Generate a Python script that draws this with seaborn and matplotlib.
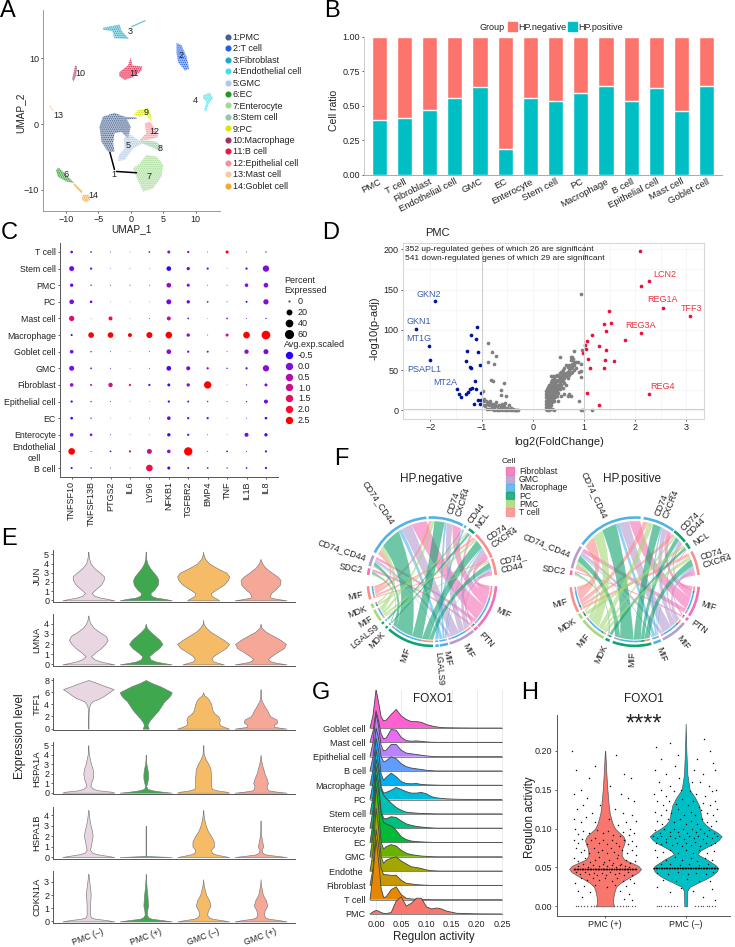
import matplotlib
matplotlib.use("Agg")
import matplotlib.pyplot as plt
import numpy as np
import pandas as pd
import seaborn as sns
from matplotlib.colors import LinearSegmentedColormap, to_rgba
from matplotlib.lines import Line2D
from matplotlib.patches import PathPatch, Patch, Wedge
from matplotlib.path import Path

W, H = 735, 947

# ---- A: UMAP cluster outlines
C1 = [(-4.8, -.4), (-4.3, 1.1), (-2.5, 1.7), (-.9, 1.1), (.9, 1.0), (.9, .8), (-.6, .7), (0, -.4), (-.4, -2.2), (-1.4, -1.2), (-2.5, -1.4), (-2.7, -2.9), (-2.5, -4.2), (-3.5, -4.2), (-4.5, -2.7)]
C2 = [(7.06, 12.3), (7.8, 12), (8.6, 10.2), (9, 8.4), (8.35, 8.1), (7.3, 9.4), (7.06, 10.7)]
C3 = [(-4.28, 14.6), (-1.7, 15.1), (-1.44, 14.2), (-.26, 12.9), (-2.47, 13), (-2.84, 14.1), (-4.28, 14.3)]
C3_TAIL = [(.1, 14.85), (2.27, 15.8), (2.27, 15.6), (.1, 14.65)]
C4 = [(11.2, 4.4), (12.2, 4.75), (12.7, 3.9), (12, 3.1), (11.6, 1.9), (11.3, 2.1), (11.7, 3.4), (11.1, 3.9)]
C5 = [(-.67, -1.4), (.1, -1.7), (1.9, -2.9), (.36, -3.7), (-.93, -5.45), (-1.96, -5.6), (-1.8, -4.7), (-.93, -3.7), (-1.08, -2.4)]
C6 = [(-11.5, -7), (-11.1, -6.6), (-9.95, -7.7), (-8.66, -9), (-9.95, -8.7), (-11.2, -8)]
C7 = [(2.4, -4.7), (4, -4.95), (5, -6.2), (4.74, -8), (3.45, -9.75), (1.9, -10.25), (.88, -8), (.36, -6.7), (1.4, -6)]
C8 = [(1.4, -2.4), (4, -2.7), (4.74, -3.4), (4.5, -4.2), (3.7, -3.7), (1.9, -3)]
C9 = [(.46, 1.4), (1.1, 2.1), (2.7, 2.4), (3.2, 1.1), (3.2, .35), (2.4, 1.4), (1.4, 1.1)]
C10 = [(-8.56, 8.9), (-8.25, 8.7), (-8.4, 7.4), (-8.8, 6.4), (-9, 6.9), (-8.76, 7.9)]
C11 = [(-1.7, 7.9), (-.4, 8.9), (0, 10.1), (.26, 8.9), (1.8, 8.7), (1.65, 8.1), (.36, 7.1), (-.93, 6.7), (-1.8, 7.3)]
C12 = [(2.16, .1), (3, .35), (4.07, -1.2), (4.2, -2), (2.7, -2.4), (1.4, -2.4), (2.4, -1.4)]
C13 = [(-12.4, 2.9), (-11.8, 2), (-11.9, 1.9), (-12.5, 2.6)]
C14 = [(-7.4, -10.75), (-6.4, -10.75), (-6.2, -11.5), (-6.9, -11.9), (-7.5, -11.5)]
C14_TAIL = [(-8.66, -9), (-7.4, -10.25), (-7.6, -10.5), (-8.8, -9.25)]
CLUSTER_SHAPES = [C1, C2, C3, C4, C5, C6, C7, C8, C9, C10, C11, C12, C13, C14]
CLUSTER_NAMES = ["1:PMC", "2:T cell", "3:Fibroblast", "4:Endothelial cell", "5:GMC", "6:EC", "7:Enterocyte", "8:Stem cell", "9:PC", "10:Macrophage", "11:B cell", "12:Epithelial cell", "13:Mast cell", "14:Goblet cell"]
CLUSTER_COLORS = ["#44608f", "#2060e8", "#1fa8c8", "#40e0f0", "#b0c8e8", "#229922", "#a0dc90", "#90c8a8", "#d8e800", "#a03060", "#e81840", "#f8909a", "#f8c8a8", "#f8a830"]
CLUSTER_LABEL_X = [-2.6, 7.8, -.15, 10, -.4, -9.9, 2.8, 4.5, 2.3, -7.8, .45, 3.6, -11.2, -5.7]
CLUSTER_LABEL_Y = [-7.7, 10.4, 14, 3.5, -3.2, -7.7, -7.9, -3.7, 1.7, 7.7, 7.6, -1.2, 1.3, -10.8]
POINTER_X = [-3.2, -2.5, -2.2, .9]
POINTER_Y = [-4.3, -6.9, -7.2, -7.4]

# ---- B: HP fraction per cell type
BAR_CELLS = ["PMC", "T cell", "Fibroblast", "Endothelial cell", "GMC", "EC", "Enterocyte", "Stem cell", "PC", "Macrophage", "B cell", "Epithelial cell", "Mast cell", "Goblet cell"]
HP_POSITIVE = [.40, .41, .47, .555, .635, .185, .56, .535, .59, .645, .535, .63, .465, .645]
HP_TOTAL = [1.0] * 14

# ---- C: dot plot
DOT_GENES = ["TNFSF10", "TNFSF13B", "PTGS2", "IL6", "LY96", "NFKB1", "TGFBR2", "BMP4", "TNF", "IL1B", "IL8"]
DOT_ROWS = ["T cell", "Stem cell", "PMC", "PC", "Mast cell", "Macrophage", "Goblet cell", "GMC", "Fibroblast", "Epithelial cell", "EC", "Enterocyte", "Endothelial\ncell", "B cell"]
DOT_PCT = [
    [7, 3, 1, .5, 3, 9, 5, 1, 9, 1, 2],
    [25, 5, .5, .5, .5, 22, 11, 5, .5, 5, 40],
    [11, 2, 1, 1, 1, 22, 9, 1, 1, 13, 22],
    [22, 7, .5, .5, .5, 25, 11, 3, 1, 4, 28],
    [28, .5, 16, .5, 1, 16, 3, .5, 3, 1, 2],
    [4, 32, 32, 16, 36, 44, 11, 1, 9, 44, 75],
    [13, 2, 1, .5, 1, 22, 5, 4, 1, 19, 25],
    [25, 3, 1, .5, 1, 22, 16, 5, 2, 5, 40],
    [13, 4, 19, 5, 5, 9, 11, 54, .5, 2, 9],
    [5, 2, 1, .5, .5, 5, 4, 2, 1, 2, 16],
    [7, 2, .5, .5, 1, 13, 5, 5, .5, 1, 7],
    [13, 7, 1, .5, .5, 11, 5, 1, .5, 16, 11],
    [44, 1, 3, 5, 25, 13, 70, 1, 3, 1, 5],
    [4, 2, 1, .5, 44, 9, 4, 3, 2, 3, 5],
]
DOT_AVG = [
    [-.2, 0, 0, 0, 0, 0, -.1, 0, 2.5, 0, 0],
    [-.1, -.2, 0, 0, 0, -.4, -.1, -.1, 0, -.3, 0],
    [-.2, -.2, 0, 0, 0, .2, -.1, 0, -.1, 0, 0],
    [0, -.1, 0, 0, 0, -.1, -.2, -.1, -.1, -.3, 0],
    [1.4, 0, 1.7, 0, 0, .9, -.2, 0, 0, 0, -.2],
    [-.5, 2.5, 2.5, 2.5, 2.5, 2.5, 0, 0, 1, 2.5, 2.5],
    [-.1, -.2, 0, 0, 0, .1, -.2, -.1, 0, .1, -.1],
    [0, -.2, -.2, 0, -.1, -.3, -.1, -.1, -.2, -.3, .1],
    [.2, .6, 1.1, 1.5, -.2, -.3, 0, 2.5, 0, 0, -.1],
    [-.4, -.1, 0, 0, 0, -.4, -.2, -.1, -.1, -.1, -.1],
    [-.4, -.1, 0, 0, 0, -.2, -.3, -.2, 0, 0, -.3],
    [0, 0, 0, 0, 0, -.4, -.2, 0, 0, -.1, -.3],
    [2.5, -.2, -.3, 1.1, 1, .1, 2.5, -.1, -.3, -.3, -.1],
    [-.5, -.3, 0, -.2, 1.8, -.4, -.3, -.1, -.1, -.3, -.3],
]
PCT_LEVELS = [0, 20, 40, 60]
AVG_LEVELS = [-.5, 0, .5, 1, 1.5, 2, 2.5]
AVG_COLORS = ["#2a00ff", "#8010d8", "#b010a8", "#c81088", "#e01060", "#f01030", "#ff0000"]

# ---- D: volcano
RED_X = [2.10, 2.27, 2.12, 2.54, 3.08, 2.12, 1.80, 1.48, 1.40, 1.53, 1.43, 1.16, 1.05, 1.02, 1.04, .99, 1.30, 1.44, 1.07, 1.41, 1.58, 1.12, 1.40, 1.05, 2.27, 1.30]
RED_Y = [198, 160.7, 154.5, 126.7, 116.8, 96.5, 87.4, 123.8, 107, 109, 98, 93, 86, 81.6, 76.6, 71.6, 79.5, 75, 64, 63, 61, 52, 52, 21, 20, 6]
BLUE_X = [-1.91, -2.28, -2.02, -2.01, -1.09, -1.20, -1.10, -1.29, -1.07, -1.31, -1.22, -1.20, -1.03, -1.13, -1.47, -1.45, -1.40, -1.30, -1.27, -1.22, -1.18, -1.11, -1.02, -1.06, -1.14, -1.03, -1.02]
BLUE_Y = [136, 101.5, 80, 62, 104, 94, 89, 74, 73, 61, 54, 52, 56, 36, 26, 20, 16, 20, 23, 26.5, 28, 26, 21, 13, 7.5, 7.5, 13]
GREY_LEFT_X = [-.87, -.80, -.72, -.87, -.76, -.81, -.77, -.57, -.97, -.62, -.62, -.52, -.98, -.95, -.92, -.9, -.96, -.93, -.88, -.86, -.84, -.82, -.8, -.78, -.76, -.74, -.72, -.7, -.68, -.66, -.64, -.62, -.6, -.58, -.56, -.54, -.52, -.5, -.48, -.46, -.44, -.42, -.4, -.38, -.36, -.34, -.32, -.3, -.28, -.9, -.85, -.8, -.75, -.7, -.65, -.6, -.55, -.5, -.45, -.42]
GREY_LEFT_Y = [83, 72, 68, 60, 57.5, 38, 36, 34, 24.5, 25, 19, 18, 12, 14, 11, 8, 6, 5, 10, 6, 12, 8, 4, 8, 3, 6, 10, 5, 2, 6, 1, 4, 8, 2, 5, 9, 1, 3, 1, 6, 2, 1, 0, 1, 0, .5, 0, 0, 0, 2, 1, 1, 0, 0, 0, 0, 0, 0, 0, 3]
GREY_RIGHT_COLS = [.25, .27, .29, .31, .33, .35, .37, .39, .41, .44, .47, .5, .53, .56, .59, .62, .65, .68, .71, .74, .77, .8, .84, .88, .91, .94, .96, .99, 1.15, .75, .79]
GREY_RIGHT_ROWS = [
    [1, 4, 8, 12, 16, 20, 24], [0, 3, 6, 10, 14, 18, 22, 26], [1, 5, 9, 13, 17, 21, 25, 29], [0, 4, 8, 12, 16, 20, 24, 28, 32],
    [3, 7, 11, 15, 19, 23, 27, 31], [2, 6, 12, 18, 22, 26, 30, 35, 42], [1, 10, 16, 20, 24, 28, 32, 38], [14, 18, 22, 26, 30, 34, 43],
    [0, 12, 20, 24, 28, 32, 36, 40], [16, 22, 26, 30, 34, 38, 42], [18, 24, 28, 32, 36, 44], [12, 22, 28, 32, 38, 42],
    [26, 30, 34, 40, 46, 66], [18, 32, 36, 42, 48], [28, 36, 40, 46, 50], [20, 34, 40, 44, 52], [32, 42, 46, 56], [18, 40, 48, 54],
    [20, 44, 50, 56], [18, 46, 52, 62], [48, 54, 58, 66], [50, 56, 60, 74], [52, 60], [60], [11, 48], [144.5, 58, 49, 41, .5], [75], [0], [0], [66], [64],
]
DOWN_LABELS = ["GKN2", "GKN1", "MT1G", "PSAPL1", "MT2A"]
DOWN_LABEL_X = [-2.27, -2.47, -2.48, -2.46, -1.95]
DOWN_LABEL_Y = [144, 110, 88.6, 51, 34.5]
UP_LABELS = ["LCN2", "REG1A", "REG3A", "TFF3", "REG4"]
UP_LABEL_X = [2.57, 2.53, 2.1, 3.1, 2.53]
UP_LABEL_Y = [169, 138, 105.6, 126.7, 30]

# ---- E: stacked violins, half widths per level (1/172 of a slot)
E_GROUPS = ["PMC (\u2013)", "PMC (+)", "GMC (\u2013)", "GMC (+)"]
E_COLORS = ["#e8d6e2", "#3fa84f", "#f5bb66", "#f5a898"]
E_GENES = ["JUN", "LMNA", "TFF1", "HSPA1A", "HSPA1B", "CDKN1A"]
JUN_LEVELS = [0, .15, .3, .5, .8, 1.2, 1.7, 2.2, 2.6, 3, 3.5, 4, 4.5, 5, 5.3]
JUN_WIDTHS = [
    [78, 58, 35, 18, 10, 22, 38, 46, 47, 35, 18, 7, 3, .5, 0],
    [78, 58, 30, 16, 14, 26, 36, 38, 33, 24, 13, 5, 1.5, .7, .4],
    [48, 42, 34, 25, 24, 40, 62, 74, 78, 70, 42, 18, 6, 1, 0],
    [78, 50, 30, 28, 32, 45, 58, 60, 50, 34, 16, 5, 0, 0, 0],
]
LMNA_LEVELS = [0, .15, .3, .5, .8, 1.2, 1.6, 2, 2.4, 2.8, 3.2, 3.6, 4, 4.4, 4.8]
LMNA_WIDTHS = [
    [78, 55, 35, 18, 8, 22, 38, 50, 58, 52, 32, 16, 7, 2, .5],
    [78, 50, 28, 14, 10, 24, 40, 50, 42, 28, 14, 3, 0, 0, 0],
    [62, 45, 30, 25, 30, 48, 68, 78, 62, 42, 22, 9, 1, 0, 0],
    [78, 48, 30, 22, 32, 50, 70, 76, 60, 38, 16, 3, 0, 0, 0],
]
TFF1_LEVELS = [0, .3, .6, 1, 1.5, 2, 2.5, 3, 3.5, 4, 4.5, 5, 5.5, 6, 6.5, 7, 7.5, 8]
TFF1_WIDTHS = [
    [.5, .5, .5, .5, .5, .7, 1, 1.5, 2, 5, 12, 35, 50, 62, 76, 50, 26, 0],
    [9, 7, 5, 8, 14, 22, 30, 38, 44, 50, 56, 66, 74, 78, 60, 42, 18, 0],
    [78, 62, 50, 48, 50, 46, 34, 28, 26, 24, 20, 14, 3, 0, 0, 0, 0, 0],
    [78, 40, 40, 50, 48, 30, 24, 20, 14, 9, 4, 1.5, 1, .5, 0, 0, 0, 0],
]
HSPA1A_LEVELS = [0, .1, .25, .4, .7, 1, 1.5, 2, 2.5, 3, 3.5, 4, 4.5, 5]
HSPA1A_WIDTHS = [
    [78, 70, 30, 15, 6, 8, 13, 15, 13, 8, 5, 2, .5, 0],
    [78, 50, 20, 5, 1.5, 4, 7, 7, 5, 2, .5, 0, 0, 0],
    [78, 70, 40, 26, 24, 24, 24, 23, 22, 16, 8, 2, 1, .7],
    [78, 50, 24, 20, 18, 22, 18, 12, 8, 4, 1.5, 0, 0, 0],
]
HSPA1B_LEVELS = [0, .1, .25, .4, .7, 1, 1.5, 2, 2.5, 3, 3.5, 4, 4.5]
HSPA1B_WIDTHS = [
    [78, 60, 30, 12, 5, 7, 10, 13, 11, 7, 4, 2, .5],
    [78, .5, .5, .5, .5, .5, .5, .5, .5, 0, 0, 0, 0],
    [78, 60, 38, 26, 24, 32, 32, 24, 14, 8, 4, 1.5, .5],
    [78, 50, 15, 6, 3, 8, 5, 2, 1, .5, 0, 0, 0],
]
CDKN1A_LEVELS = [0, .1, .2, .3, .5, .8, 1.2, 1.6, 2, 2.4, 2.8, 3.2, 3.6]
CDKN1A_WIDTHS = [
    [78, 55, 22, 8, 5, 5, 5, 6, 7, 6, 4, 2, .5],
    [78, 50, 18, 8, 3, 4, 7, 6, 5, 3, 2, .5, 0],
    [78, 55, 28, 18, 12, 14, 22, 18, 9, 5, 1.5, 0, 0],
    [78, 55, 25, 14, 10, 12, 20, 16, 7, 4, 1, 0, 0],
]
E_LEVELS = [JUN_LEVELS, LMNA_LEVELS, TFF1_LEVELS, HSPA1A_LEVELS, HSPA1B_LEVELS, CDKN1A_LEVELS]
E_WIDTHS = [JUN_WIDTHS, LMNA_WIDTHS, TFF1_WIDTHS, HSPA1A_WIDTHS, HSPA1B_WIDTHS, CDKN1A_WIDTHS]
E_TICKS = [[0, 1, 2, 3, 4, 5], [0, 1, 2, 3, 4], [0, 2, 4, 6, 8], [0, 1, 2, 3, 4, 5], [0, 1, 2, 3, 4], [0, 1, 2, 3]]
E_YLIMS = [(-.18, 5.47), (-.16, 4.95), (-.22, 8.33), (-.17, 5.3), (-.16, 4.82), (-.12, 3.82)]

# ---- F: chord diagrams (degrees, ccw from east)
CELL_NAMES = ["Fibroblast", "GMC", "Macrophage", "PC", "PMC", "T cell"]
CELL_COLORS = ["#f46fb4", "#b79ccf", "#4fb3e8", "#0fa36f", "#a8d878", "#fb8f8c"]
NEG_SENDERS = [(-4, -44, 0), (-45, -49, 0), (-50, -74, 1), (-75.5, -83, 2), (-84, -87, 2), (-89, -132, 3), (-134, -136, 3), (-139, -141, 3), (-143, -154, 4), (-156, -160, 4), (-164, -176, 5)]
NEG_RECEIVERS = [(6, 21, 5), (22, 47, 5), (49, 55, 3), (58, 60, 2), (61.4, 93, 2), (95, 153, 2), (156, 166, 1), (168, 174, 0)]
NEG_WEIGHTS = [
    [3, 6, 0, 0, 9, 13, 3, 0],
    [0, 0, 2, 0, 0, 0, 0, 2],
    [2, 4, 0, 0, 6, 9, 3, 0],
    [.8, 1, 0, 0, 2, 3, .8, 0],
    [0, 0, 0, 3, 0, 0, 0, 0],
    [4, 7, 0, 0, 10, 18, 4, 0],
    [0, 0, 2, 0, 0, 0, 0, 1.5],
    [0, 0, 0, 1, 0, 0, 0, 0],
    [1, 2, 0, 0, 2.5, 4, 1, 0],
    [0, 0, 1.5, 0, 0, 0, 0, 1.5],
    [1, 2, 0, 0, 3, 4, 1, 0],
]
NEG_LABELS = ["CD74_CD44", "CD74_\nCXCR4", "CD44\nNCL", "CD74_\nCXCR4", "CD74_\nCD44", "MIF", "PTN", "MIF", "MIF", "LGALS9", "MIF", "MDK", "LGALS9", "MIF", "MDK", "MIF", "SDC2", "CD74_CD44"]
NEG_LABEL_ANGLES = [124, 72, 54, 34, 13, -24, -47, -62, -79, -85.5, -110, -133, -141, -149, -158, -169, 171, 161]
POS_SENDERS = [(-4.5, -32, 0), (-34, -37, 0), (-40, -64, 1), (-66, -73, 2), (-75, -110, 3), (-113, -117, 3), (-119, -143, 4), (-145, -150, 4), (-152, -175, 5)]
POS_RECEIVERS = [(6, 28, 5), (31, 37, 3), (38.5, 52, 3), (53, 82, 2), (84.7, 144.6, 2), (147, 168, 1), (170, 174, 0)]
POS_WEIGHTS = [
    [4, 0, 2, 5, 11, 4, 0],
    [0, 1, 0, 0, 0, 0, 1],
    [4, 0, 2, 5, 10, 3, 0],
    [1, 0, .5, 1.5, 3, 1, 0],
    [6, 0, 4, 8, 15, 6, 0],
    [0, 3, 0, 0, 0, 0, 1],
    [3, 0, 2, 5, 11, 4, 0],
    [0, 3, 0, 0, 0, 0, 1.5],
    [3, 0, 3, 5, 12, 4, 0],
]
POS_LABELS = ["CD74_CD44", "CD74_\nCXCR4", "CD74_\nCD44", "NCL", "CD74_\nCXCR4", "MIF", "PTN", "MIF", "MIF", "MIF", "MDK", "MIF", "MDK", "MIF", "SDC2", "CD74_CD44"]
POS_LABEL_ANGLES = [115, 68, 45, 33, 17, -18, -35, -52, -70, -92, -115, -131, -147, -164, 172, 158]

# ---- G: ridges, heights in rows of the y axis
RIDGE_NAMES = ["PMC", "T cell", "Fibroblast", "Endothe ", "GMC", "EC", "Enterocyte", "Stem cell", "PC", "Macrophage", "B cell", "Epithelial cell", "Mast cell", "Goblet cell"]
RIDGE_COLORS = ["#F8766D", "#E58700", "#C99800", "#A3A500", "#6BB100", "#00BA38", "#00BF7D", "#00C0AF", "#00BCD8", "#00B0F6", "#619CFF", "#B983FF", "#E76BF3", "#FD61D1"]
RIDGE_X = [-.012, -.006, 0, .005, .01, .015, .02, .03, .04, .05, .06, .07, .08, .09, .1, .11, .12, .13, .14, .16, .2, .25]
PMC_R = [0, .15, .25, .2, .1, .05, .03, .1, .9, 1.2, .55, .75, 1.1, 1.1, .5, .35, .42, .35, .2, .05, .01, 0]
TCELL_R = [0, 1.8, 4.2, 2.7, .8, .15, .2, .7, .9, .35, .1, .05, .03, .02, .01, 0, 0, 0, 0, 0, 0, 0]
FIBRO_R = [0, 1.2, 3.9, 2.8, 1.2, .75, .75, .7, .7, .35, .15, .1, .05, .03, .01, 0, 0, 0, 0, 0, 0, 0]
ENDO_R = [0, 1.3, 4.4, 3, 1, .55, .75, .9, 1, .7, .5, .3, .25, .18, .08, .03, .01, 0, 0, 0, 0, 0]
GMC_R = [0, 1.5, 4.9, 3.4, 1, .55, .7, .85, .75, .45, .25, .15, .1, .05, .03, .01, 0, 0, 0, 0, 0, 0]
EC_R = [0, 1.4, 4.7, 3.6, 2, 1.4, 1.3, 1.15, .85, .4, .2, .1, .06, .04, .02, .01, 0, 0, 0, 0, 0, 0]
ENTERO_R = [0, 1.3, 4.3, 3.2, 1.2, .7, .65, .8, .75, .5, .3, .2, .12, .08, .04, .02, 0, 0, 0, 0, 0, 0]
STEM_R = [0, 1.2, 3.8, 3, 1.7, 1.3, 1.1, .75, .45, .25, .12, .08, .05, .03, .02, .01, 0, 0, 0, 0, 0, 0]
PC_R = [0, 1.2, 3.5, 2.4, .9, .45, .5, .65, .85, .7, .55, .45, .45, .5, .4, .2, .12, .08, .05, .02, 0, 0]
MACRO_R = [0, 1.1, 3.3, 2.4, .8, .35, .55, .85, .6, .25, .12, .1, .12, .06, .03, .02, .01, 0, 0, 0, 0, 0]
BCELL_R = [0, 1, 3, 2.3, 1, .65, .7, 1, .85, .5, .3, .2, .15, .1, .05, .02, 0, 0, 0, 0, 0, 0]
EPI_R = [0, 1, 3, 2.1, .8, .4, .45, .85, .85, .45, .25, .2, .15, .1, .05, .02, 0, 0, 0, 0, 0, 0]
MAST_R = [0, .8, 2.2, 1.5, .6, .25, .3, .9, .85, .35, .12, .08, .1, .07, .03, .01, 0, 0, 0, 0, 0, 0]
GOBLET_R = [0, .9, 2.7, 1.8, .8, .5, .55, .95, 1.3, .85, .6, .45, .45, .4, .25, .15, .08, .03, .02, .01, 0, 0]
RIDGE_VALUES = [PMC_R, TCELL_R, FIBRO_R, ENDO_R, GMC_R, EC_R, ENTERO_R, STEM_R, PC_R, MACRO_R, BCELL_R, EPI_R, MAST_R, GOBLET_R]

# ---- H: violins and jitter
H_GROUPS = ["PMC (+)", "PMC (\u2013)"]
H_PLUS_LEVELS = [0, .005, .012, .02, .025, .03, .035, .04, .044, .048, .052, .056, .06, .065, .07, .075, .08, .085, .09, .095, .1, .105, .11, .12, .13, .15, .17, .2]
H_PLUS_WIDTHS = [27, 24, 25, 29, 33, 45, 64, 85, 100, 108, 100, 80, 58, 50, 50, 52, 57, 60, 55, 42, 30, 24, 20, 14, 11, 7, 4, .5]
H_MINUS_LEVELS = [0, .02, .025, .03, .035, .04, .045, .049, .053, .057, .06, .067, .072, .076, .08, .085, .09, .095, .1, .105, .11, .12, .13, .14, .15, .17, .2, .235]
H_MINUS_WIDTHS = [4, 5, 12, 35, 60, 80, 93, 98, 90, 75, 65, 35, 45, 62, 80, 98, 108, 95, 75, 60, 50, 45, 40, 28, 12, 5, 2, 0]
H_PLUS_JITTER = [(-.41, .2), (-.36, .175), (-.2, .165), (-.12, .18), (.14, .195), (.24, .17), (.32, .165), (-.3, .15), (-.38, .145), (-.22, .14), (-.27, .13), (.2, .145), (.28, .14), (.36, .135), (.06, .155), (-.06, .13), (-.35, .125), (-.16, .12), (.12, .125), (.22, .12), (.33, .118), (.38, .11), (-.39, .112), (-.3, .108), (-.24, .115), (-.12, .108), (.05, .112), (.16, .105), (.26, .108), (.31, .1), (-.37, .1), (-.33, .093), (-.27, .097), (-.2, .095), (-.1, .098), (-.03, .094), (.04, .097), (.1, .092), (.18, .09), (.22, .096), (.3, .092), (.36, .094), (-.38, .085), (-.34, .082), (-.29, .087), (-.23, .08), (-.17, .085), (-.12, .088), (-.07, .082), (-.02, .086), (.03, .08), (.08, .085), (.13, .082), (.17, .078), (.24, .086), (.29, .08), (.34, .084), (.39, .078), (-.36, .075), (-.3, .07), (-.26, .073), (-.2, .068), (-.14, .075), (-.09, .07), (-.04, .073), (.02, .068), (.07, .075), (.11, .07), (.16, .066), (.21, .072), (.27, .068), (.33, .073), (.38, .066), (-.39, .062), (-.33, .058), (-.25, .062), (-.19, .057), (-.13, .06), (-.07, .063), (-.01, .057), (.05, .06), (.1, .056), (.15, .062), (.2, .055), (.26, .06), (.31, .056), (.37, .058), (-.34, .052), (-.27, .054), (-.21, .051), (-.15, .053), (-.08, .052), (-.03, .054), (.03, .052), (.09, .053), (.14, .051), (.19, .053), (.25, .052), (.3, .051), (-.36, .044), (-.31, .042), (-.25, .044), (-.2, .041), (-.14, .043), (-.1, .04), (-.04, .043), (.01, .04), (.06, .044), (.12, .041), (.17, .043), (.23, .04), (.28, .044), (.34, .04), (-.3, .036), (-.22, .034), (-.15, .037), (-.07, .034), (0, .036), (.08, .033), (.15, .036), (.22, .033), (.31, .035), (-.37, .03), (-.26, .026), (-.12, .028), (.03, .025), (.12, .027), (.26, .026), (.36, .03), (-.33, .02), (-.19, .018), (.18, .02), (.3, .016), (-.28, .012), (.24, .01), (.33, .008)]
H_MINUS_JITTER = [(-.37, .205), (-.19, .21), (.23, .215), (.3, .2), (-.3, .19), (-.1, .195), (.14, .19), (.34, .185), (-.38, .175), (-.25, .17), (-.13, .18), (.1, .175), (.21, .17), (.37, .175), (-.33, .16), (-.2, .155), (-.08, .165), (.08, .16), (.18, .16), (.29, .155), (.38, .15), (-.39, .145), (-.3, .15), (-.24, .142), (-.15, .148), (-.06, .15), (.05, .148), (.13, .145), (.24, .142), (.33, .148), (-.36, .135), (-.28, .13), (-.21, .136), (-.12, .132), (-.04, .138), (.03, .13), (.09, .135), (.16, .128), (.22, .133), (.3, .13), (.37, .135), (-.38, .122), (-.31, .118), (-.25, .124), (-.18, .12), (-.1, .125), (-.02, .118), (.06, .122), (.12, .118), (.19, .124), (.27, .12), (.34, .118), (.39, .125), (-.35, .11), (-.29, .106), (-.22, .112), (-.15, .108), (-.07, .112), (0, .106), (.07, .11), (.14, .106), (.2, .112), (.26, .108), (.32, .104), (.38, .11), (-.38, .098), (-.32, .095), (-.27, .1), (-.2, .096), (-.14, .1), (-.09, .096), (-.03, .099), (.02, .095), (.08, .1), (.13, .096), (.18, .1), (.23, .095), (.29, .098), (.35, .095), (-.4, .09), (-.35, .088), (-.3, .091), (-.25, .087), (-.19, .09), (-.13, .088), (-.08, .091), (-.02, .087), (.04, .09), (.1, .088), (.15, .091), (.21, .087), (.27, .09), (.33, .088), (.39, .09), (-.37, .082), (-.31, .08), (-.24, .083), (-.17, .079), (-.11, .082), (-.05, .078), (.01, .082), (.07, .079), (.12, .083), (.18, .078), (.25, .082), (.31, .079), (.37, .082), (-.38, .072), (-.28, .07), (-.2, .073), (-.1, .069), (0, .072), (.09, .068), (.17, .072), (.26, .069), (.35, .071), (-.35, .063), (-.24, .06), (-.13, .063), (-.04, .059), (.06, .062), (.14, .058), (.24, .062), (.33, .059), (-.3, .054), (-.19, .055), (-.07, .053), (.04, .055), (.16, .053), (.28, .054), (-.36, .043), (-.22, .042), (-.09, .044), (.03, .041), (.13, .043), (.25, .041), (.34, .044), (-.28, .034), (-.12, .032), (.02, .035), (.17, .032), (.3, .033), (-.35, .025), (-.06, .024), (.09, .02), (.33, .022), (-.2, .018), (.22, .012), (.36, .008)]
H_LINE_OFFSETS = [-.39, -.37, -.35, -.33, -.31, -.29, -.27, -.25, -.23, -.21, -.19, -.17, -.15, -.13, -.11, -.09, -.07, -.05, -.03, -.01, .01, .03, .05, .07, .09, .11, .13, .15, .17, .19, .21, .23, .25, .27, .29, .31, .33, .35, .37, .39]
H_ZERO_OFFSETS = [-.36, -.33, -.3, -.26, -.22, -.18, -.14, -.11, .11, .15, .19, .22, .26, .29, .33, .37]

sns.set_theme(style="white")
plt.rcParams["font.family"] = ["Liberation Sans", "DejaVu Sans"]
plt.rcParams["hatch.linewidth"] = 0.6
TEXT = "#222222"
AXIS = "#555555"

fig = plt.figure(figsize=(7.35, 9.47), dpi=100)


def px_axes(left, top, right, bottom):
    return fig.add_axes([left / W, 1 - bottom / H, (right - left) / W, (bottom - top) / H])


def fig_text(x, y, s, **kw):
    kw.setdefault("ha", "center")
    kw.setdefault("va", "center")
    kw.setdefault("color", TEXT)
    kw.setdefault("fontsize", 6.5)
    fig.text(x / W, 1 - y / H, s, **kw)


def clean_axis(ax, size=6.5):
    sns.despine(ax=ax)
    for side in ["left", "bottom"]:
        ax.spines[side].set_color(AXIS)
        ax.spines[side].set_linewidth(.7)
    ax.tick_params(labelsize=size, colors=TEXT, length=1.5, width=.5, pad=1.5, left=True, bottom=True)
    ax.set_xlabel("")
    ax.set_ylabel("")


for letter, x, y in [("A", 8, 11), ("B", 332, 11), ("C", 9, 233), ("D", 331, 233), ("E", 9, 539), ("F", 341, 459), ("G", 321, 693), ("H", 530, 693)]:
    fig_text(x, y, letter, fontsize=17, color="black")

# ---- A
ax = px_axes(43, 10, 220, 211)
for shape, color in zip(CLUSTER_SHAPES, CLUSTER_COLORS):
    xs, ys = zip(*shape)
    ax.fill(xs, ys, facecolor=to_rgba(color, .4), edgecolor=color, hatch="........", linewidth=0)
for shape, color in [(C3_TAIL, CLUSTER_COLORS[2]), (C14_TAIL, CLUSTER_COLORS[13])]:
    xs, ys = zip(*shape)
    ax.fill(xs, ys, color=color, alpha=.7, linewidth=0)
sns.lineplot(x=POINTER_X[:2], y=POINTER_Y[:2], color="black", lw=1.1, ax=ax)
sns.lineplot(x=POINTER_X[2:], y=POINTER_Y[2:], color="black", lw=1.1, ax=ax)
for i in range(14):
    ax.text(CLUSTER_LABEL_X[i], CLUSTER_LABEL_Y[i], str(i + 1), fontsize=6.5, ha="center", va="center", color=TEXT)
ax.set_xlim(-13.5, 13.75)
ax.set_ylim(-13.2, 17.3)
clean_axis(ax)
ax.spines["left"].set_color("#999999")
ax.spines["bottom"].set_color("#999999")
ax.set_xticks([-10, -5, 0, 5, 10])
ax.set_yticks([-10, 0, 10])
fig_text(131, 229, "UMAP_1", fontsize=7.2)
fig_text(20.7, 113, "UMAP_2", fontsize=7.2, rotation=90)
handles = [Line2D([], [], marker="o", ls="", color=c, ms=3.4) for c in CLUSTER_COLORS]
fig.legend(handles, CLUSTER_NAMES, loc="upper left", bbox_to_anchor=(223.5 / W, 1 - 33 / H), frameon=False, fontsize=6.5,
           labelspacing=.27, handlelength=1, handletextpad=0, borderpad=0, borderaxespad=0, labelcolor=TEXT)

# ---- B
ax = px_axes(364, 36.7, 722, 175)
sns.barplot(x=BAR_CELLS, y=HP_TOTAL, color="#FC746C", width=.6, saturation=1, ax=ax)
sns.barplot(x=BAR_CELLS, y=HP_POSITIVE, color="#00BFC4", width=.6, saturation=1, ax=ax)
ax.set_xlim(-.6, 13.6)
ax.set_ylim(0, 1)
ax.set_yticks([0, .25, .5, .75, 1])
ax.set_yticklabels(["0.00", "0.25", "0.50", "0.75", "1.00"])
clean_axis(ax)
ax.spines["left"].set_color("#cccccc")
ax.spines["bottom"].set_color("#aaaaaa")
ax.tick_params(axis="x", length=0)
ax.set_xticks(range(14))
ax.set_xticklabels(BAR_CELLS, rotation=27, ha="right", rotation_mode="anchor", fontsize=6.8)
fig_text(334, 110, "Cell ratio", fontsize=7.5, rotation=90)
fig_text(492, 27, "Group", fontsize=6.5)
leg_handles = [Patch(color="#FC746C"), Patch(color="#00BFC4")]
fig.legend(leg_handles, ["HP.negative", "HP.positive"], loc="center left", bbox_to_anchor=(508 / W, 1 - 27 / H), ncol=2, frameon=False, fontsize=6.5,
           handlelength=.95, handleheight=1.2, handletextpad=.2, columnspacing=.2, borderpad=0, borderaxespad=0, labelcolor=TEXT)

# ---- C
ax = px_axes(60, 243, 278, 477)
row_pos = list(range(13, -1, -1))
dots = pd.DataFrame({
    "col": np.tile(np.arange(11), 14),
    "row": np.repeat(row_pos, 11),
    "pct": np.ravel(DOT_PCT),
    "avg": np.ravel(DOT_AVG),
})
dot_cmap = LinearSegmentedColormap.from_list("dot", list(zip((np.array(AVG_LEVELS) + .5) / 3, AVG_COLORS)))
PCT_TO_S = .518
sns.scatterplot(data=dots, x="col", y="row", size="pct", hue="avg", palette=dot_cmap, hue_norm=(-.5, 2.5),
                sizes=(.5 * PCT_TO_S, 81 * PCT_TO_S), size_norm=(.5, 81), linewidth=0, legend=False, ax=ax)
ax.set_xlim(-.6, 10.62)
ax.set_ylim(-.54, 13.54)
clean_axis(ax)
ax.set_xticks(range(11))
ax.set_xticklabels(DOT_GENES, rotation=90, fontsize=6.5)
ax.set_yticks(row_pos)
ax.set_yticklabels(DOT_ROWS, fontsize=6.3, ma="center")
pct_handles = [Line2D([], [], marker="o", ls="", color="black", ms=max(np.sqrt(v * PCT_TO_S), .4)) for v in PCT_LEVELS]
fig.legend(pct_handles, [str(v) for v in PCT_LEVELS], title="Percent\nExpressed", loc="upper left", bbox_to_anchor=(284 / W, 1 - 276 / H), frameon=False,
           fontsize=6.5, title_fontsize=6.5, labelspacing=.21, handlelength=1, handletextpad=.55, borderpad=0, borderaxespad=0, labelcolor=TEXT, alignment="left")
avg_handles = [Line2D([], [], marker="o", ls="", color=c, ms=4.3) for c in AVG_COLORS]
fig.legend(avg_handles, [f"{v:.1f}" for v in AVG_LEVELS], title="Avg.exp.scaled", loc="upper left", bbox_to_anchor=(284 / W, 1 - 340 / H), frameon=False,
           fontsize=6.5, title_fontsize=6.5, labelspacing=.21, handlelength=1, handletextpad=.55, borderpad=0, borderaxespad=0, labelcolor=TEXT, alignment="left")

# ---- D
ax = px_axes(402.7, 243.3, 704, 419.3)
ax.set_xticks(np.arange(-2, 3.5, .5), minor=True)
ax.set_yticks(np.arange(25, 225, 50), minor=True)
ax.grid(True, which="both", color="#f3f3f3", lw=.5)
for v in [-1, 1]:
    ax.axvline(v, color="#cfcfcf", lw=.8)
ax.axhline(1.3, color="#cfcfcf", lw=.8)
right_x = [x for x, row in zip(GREY_RIGHT_COLS, GREY_RIGHT_ROWS) for _ in row]
right_y = [y for row in GREY_RIGHT_ROWS for y in row]
sns.scatterplot(x=GREY_LEFT_X + right_x, y=GREY_LEFT_Y + right_y, color="#808080", s=7, linewidth=0, ax=ax)
sns.scatterplot(x=RED_X, y=RED_Y, color="#e8123c", s=7, linewidth=0, ax=ax)
sns.scatterplot(x=BLUE_X, y=BLUE_Y, color="#00149a", s=7, linewidth=0, ax=ax)
for i, name in enumerate(DOWN_LABELS):
    ax.text(DOWN_LABEL_X[i], DOWN_LABEL_Y[i], name, color="#3c5cab", fontsize=6.5, ha="left", va="center")
for i, name in enumerate(UP_LABELS):
    ax.text(UP_LABEL_X[i], UP_LABEL_Y[i], name, color="#f03040", fontsize=6.5, ha="center", va="center")
ax.set_xlim(-2.54, 3.345)
ax.set_ylim(-11.2, 207.5)
ax.set_xticks([-2, -1, 0, 1, 2, 3])
ax.set_yticks([0, 50, 100, 150, 200])
ax.tick_params(labelsize=6.5, colors=TEXT, length=1.5, width=.5, pad=1.5, left=True, bottom=True, which="major")
ax.tick_params(which="minor", length=0)
for spine in ax.spines.values():
    spine.set_color("#d8d8d8")
    spine.set_linewidth(.8)
ax.text(.008, .985, "352 up-regulated genes of which 26 are significant\n541 down-regulated genes of which 29 are significant", transform=ax.transAxes,
        fontsize=6, va="top", ha="left", color=TEXT, linespacing=1.5)
fig_text(437, 233, "PMC", fontsize=8)
fig_text(374, 328, "-log10(p-adj)", fontsize=8, rotation=90)
fig_text(559, 442, "log2(FoldChange)", fontsize=8)

# ---- E
E_BOTTOMS = [602, 666, 730, 794.3, 858.7, 923]
for i, gene in enumerate(E_GENES):
    ax = px_axes(53.3, E_BOTTOMS[i] - 52, 295, E_BOTTOMS[i])
    levels = E_LEVELS[i]
    for j, color in enumerate(E_COLORS):
        half = np.array(E_WIDTHS[i][j]) / 172
        keep = np.flatnonzero(half > 0)
        top = min(keep[-1] + 2, len(levels))
        ax.fill_betweenx(levels[:top], j - half[:top], j + half[:top], facecolor=color, edgecolor="#7a7a7a", lw=.45)
    ax.set_xlim(-.61, 3.6)
    ax.set_ylim(*E_YLIMS[i])
    clean_axis(ax, 6.5)
    ax.set_yticks(E_TICKS[i])
    ax.set_xticks([])
    fig_text(37, E_BOTTOMS[i] - 26, gene, fontsize=6.8, rotation=90)
ax.set_xticks(range(4))
ax.set_xticklabels(E_GROUPS, rotation=20, ha="center", fontsize=6.3)
ax.tick_params(axis="x", length=0, pad=3)
fig_text(20, 736, "Expression level", fontsize=8.5, rotation=90)


# ---- F
def arc(radius, a1, a2):
    t = np.radians(np.linspace(a1, a2, 12))
    return np.column_stack([radius * np.cos(t), radius * np.sin(t)])


def chord(ax, s1, s2, r1, r2, color):
    head = arc(.885, s1, s2)
    tail = arc(.925, r2, r1)
    mid1 = .25 * (head[-1] + tail[0])
    mid2 = .25 * (tail[-1] + head[0])
    verts = list(head) + [mid1] + list(tail) + [mid2, head[0]]
    codes = [Path.MOVETO] + [Path.LINETO] * 11 + [Path.CURVE3, Path.CURVE3] + [Path.LINETO] * 11 + [Path.CURVE3, Path.CURVE3]
    ax.add_patch(PathPatch(Path(verts, codes), facecolor=to_rgba(color, .6), edgecolor="none", lw=0))


def chord_panel(ax, senders, receivers, weights, labels, label_angles):
    ax.set_xlim(-1.008, 1.008)
    ax.set_ylim(-1.008, 1.008)
    ax.set_aspect("equal")
    ax.axis("off")
    weights = np.array(weights, dtype=float)
    col_sum = weights.sum(axis=0)
    row_sum = weights.sum(axis=1)
    links = []
    recv_pos = [r[0] for r in receivers]
    for i, (a1, a2, c) in enumerate(senders):
        ax.add_patch(Wedge((0, 0), 1, min(a1, a2), max(a1, a2), width=.04, color=CELL_COLORS[c], lw=0))
        pos = a1
        span = (a2 - a1) / row_sum[i]
        for j, (b1, b2, d) in enumerate(receivers):
            if weights[i, j] == 0:
                continue
            next_pos = pos + weights[i, j] * span
            recv_width = (b2 - b1) * weights[i, j] / col_sum[j]
            links.append((i, pos, next_pos, recv_pos[j], recv_pos[j] + recv_width, CELL_COLORS[c], CELL_COLORS[d]))
            recv_pos[j] += recv_width
            pos = next_pos
    for b1, b2, d in receivers:
        ax.add_patch(Wedge((0, 0), 1, b1, b2, width=.04, color=CELL_COLORS[d], lw=0))
    draw_rank = [0, 1, 2, 4, 5, 3]
    links.sort(key=lambda item: draw_rank[[s[2] for s in senders][item[0]]])
    for _, s1, s2, r1, r2, color, recv_color in links:
        chord(ax, s1, s2, r1, r2, color)
        ax.add_patch(Wedge((0, 0), .925, min(s1, s2), max(s1, s2), width=.025, color=recv_color, lw=0))
    for text, angle in zip(labels, label_angles):
        t = np.radians(angle)
        right = np.cos(t) >= 0
        ax.text(1.07 * np.cos(t), 1.07 * np.sin(t), text, fontsize=6.4, color=TEXT, rotation=angle if right else angle + 180,
                rotation_mode="anchor", ha="left" if right else "right", va="center", linespacing=1.0, ma="left" if right else "right", clip_on=False)


ax = px_axes(432 - 66, 581.7 - 66, 432 + 66, 581.7 + 66)
chord_panel(ax, NEG_SENDERS, NEG_RECEIVERS, NEG_WEIGHTS, NEG_LABELS, NEG_LABEL_ANGLES)
ax = px_axes(634.7 - 66, 581.7 - 66, 634.7 + 66, 581.7 + 66)
chord_panel(ax, POS_SENDERS, POS_RECEIVERS, POS_WEIGHTS, POS_LABELS, POS_LABEL_ANGLES)
fig_text(431.7, 479, "HP.negative", fontsize=8.5)
fig_text(632, 479, "HP.positive", fontsize=8.5)
fig_text(509, 461.7, "Cell", fontsize=6)
cell_handles = [Patch(color=c, alpha=.85) for c in CELL_COLORS]
fig.legend(cell_handles, CELL_NAMES, loc="upper left", bbox_to_anchor=(506 / W, 1 - 467 / H), frameon=False, fontsize=6.2,
           labelspacing=-.09, handlelength=.9, handleheight=.95, handletextpad=.6, borderpad=0, borderaxespad=0, labelcolor=TEXT)

# ---- G
ax = px_axes(367, 690, 503, 919)
ax.grid(True, axis="x", color="#e8e8e8", lw=.6)
for i in range(13, -1, -1):
    heights = np.array(RIDGE_VALUES[i])
    ax.fill_between(RIDGE_X, i, i + heights, facecolor=RIDGE_COLORS[i], edgecolor="none", zorder=20 - i)
    sns.lineplot(x=RIDGE_X, y=i + heights, color="#444444", lw=.6, ax=ax, zorder=20.1 - i)
    ax.plot(RIDGE_X, [i] * len(RIDGE_X), color="#555555", lw=.5, zorder=20.1 - i)
ax.set_xlim(-.018, .252)
ax.set_ylim(-.35, 15.66)
sns.despine(ax=ax, left=True, bottom=True)
ax.set_xticks([0, .05, .1, .15, .2, .25])
ax.set_xticklabels(["0.00", "0.05", "0.10", "0.15", "0.20", "0.25"])
ax.set_yticks(range(14))
ax.set_yticklabels(RIDGE_NAMES)
ax.tick_params(labelsize=6.5, colors=TEXT, length=0, pad=1)
fig_text(433, 699, "FOXO1", fontsize=8.5)
fig_text(434, 937, "Regulon activity", fontsize=8.3)

# ---- H
ax = px_axes(556.7, 715, 730, 915.7)
h_sets = [(H_PLUS_LEVELS, H_PLUS_WIDTHS, "#F8766D", H_PLUS_JITTER, .048), (H_MINUS_LEVELS, H_MINUS_WIDTHS, "#00BFC4", H_MINUS_JITTER, .049)]
for k, (levels, widths, color, jitter, line_y) in enumerate(h_sets):
    half = np.array(widths) / 242
    ax.fill_betweenx(levels, k - half, k + half, facecolor=color, edgecolor="#555555", lw=.5, zorder=2)
    jx, jy = zip(*jitter)
    sns.scatterplot(x=[k + v for v in jx], y=jy, color="#111111", s=1.1, linewidth=0, ax=ax, zorder=3)
    sns.scatterplot(x=[k + v for v in H_LINE_OFFSETS], y=[line_y] * len(H_LINE_OFFSETS), color="black", s=1.6, linewidth=0, ax=ax, zorder=3)
    sns.scatterplot(x=[k + v for v in H_ZERO_OFFSETS], y=[0] * len(H_ZERO_OFFSETS), color="#555555", s=1, linewidth=0, ax=ax, zorder=3)
ax.set_xlim(-.6, 1.55)
ax.set_ylim(-.0121, .2463)
clean_axis(ax)
ax.set_xticks([0, 1])
ax.set_xticklabels(H_GROUPS)
ax.set_yticks([0, .05, .1, .15, .2])
ax.set_yticklabels(["0.00", "0.05", "0.10", "0.15", "0.20"])
fig_text(644, 699, "FOXO1", fontsize=8.5)
fig_text(644, 725, "****", fontsize=17)
fig_text(529.5, 817, "Regulon activity", fontsize=8.3, rotation=90)

fig.savefig("out.png", dpi=100, facecolor="white")
